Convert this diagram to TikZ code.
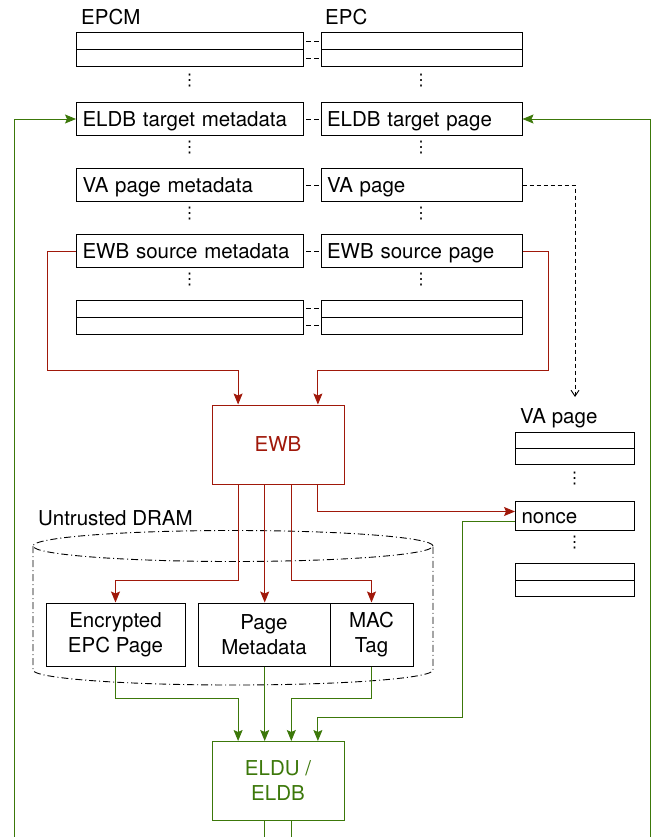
\documentclass[tikz,border=0pt]{standalone}
\usepackage{fontspec}
\setmainfont{TeX Gyre Heros}
\newfontfamily\symfont{DejaVu Sans}
\usetikzlibrary{arrows.meta,calc}
\definecolor{ewbred}{RGB}{160,24,10}
\definecolor{eldgreen}{RGB}{60,120,10}
\newcommand\mydots{{\symfont ⋮}}
\begin{document}
\begin{tikzpicture}[x=1pt,y=-1pt,
  every node/.style={font=\fontsize{20.5}{25}\selectfont},
  cell/.style={draw, line width=1pt, minimum height=33pt, inner xsep=6pt, inner ysep=0pt,
    text height=16pt, text depth=1pt, align=left, anchor=north west},
  lcell/.style={cell, text width=215pt},
  rcell/.style={cell, text width=189pt},
  thin/.style={draw, line width=1pt, minimum height=17pt, inner sep=0pt, anchor=north west},
  lbl/.style={anchor=base west, inner sep=0pt},
  dotsn/.style={inner sep=0pt, font=\fontsize{16}{16}\selectfont},
  proc/.style={minimum width=132pt, minimum height=79pt, line width=1pt, align=center, inner sep=0pt},
  dbox/.style={draw, fill=white, line width=1pt, minimum height=63pt, align=center, inner sep=0pt},
  pair/.style={dash pattern=on 5pt off 3pt, dash phase=6pt, line width=0.9pt},
  dashdot/.style={dash pattern=on 7pt off 3pt on 1pt off 3pt, line width=0.9pt},
  arr/.style={-{Stealth[length=11pt,width=9pt,inset=2pt]}},
  redlink/.style={draw=ewbred, line width=0.9pt, arr, color=ewbred},
  greenlink/.style={draw=eldgreen, line width=0.9pt, arr, color=eldgreen},
]
\useasboundingbox (0,0) rectangle (653,837);
\clip (0,0) rectangle (653,837);

% column labels
\node[lbl] (lepcm) at (81,25) {EPCM};
\node[lbl] (lepc) at (325,25) {EPC};

% top pair of rows
\node[thin, minimum width=227pt] (m1a) at (76,32) {};
\node[thin, minimum width=227pt] (m1b) at (76,49) {};
\node[thin, minimum width=201pt] (p1a) at (320.5,32) {};
\node[thin, minimum width=201pt] (p1b) at (320.5,49) {};

\node[lcell] (eldbm) at (76,102) {ELDB target metadata};
\node[rcell] (eldbp) at (320.5,102) {ELDB target page};
\node[lcell] (vam) at (76,168) {VA page metadata};
\node[rcell] (vap) at (320.5,168) {VA page};
\node[lcell] (ewbm) at (76,234) {EWB source metadata};
\node[rcell] (ewbp) at (320.5,234) {EWB source page};

\node[thin, minimum width=227pt] (m5a) at (76,299.5) {};
\node[thin, minimum width=227pt] (m5b) at (76,316.5) {};
\node[thin, minimum width=201pt] (p5a) at (320.5,299.5) {};
\node[thin, minimum width=201pt] (p5b) at (320.5,316.5) {};

% dots
\node[dotsn] (d1l) at (189.5,81) {\mydots};
\node[dotsn] (d1r) at (421,81) {\mydots};
\node[dotsn] (d2l) at (189.5,147.5) {\mydots};
\node[dotsn] (d2r) at (421,147.5) {\mydots};
\node[dotsn] (d3l) at (189.5,213.5) {\mydots};
\node[dotsn] (d3r) at (421,213.5) {\mydots};
\node[dotsn] (d4l) at (189.5,279.5) {\mydots};
\node[dotsn] (d4r) at (421,279.5) {\mydots};

% dashed links between EPCM and EPC
\foreach \a/\b in {m1a/p1a, m1b/p1b, eldbm/eldbp, vam/vap, ewbm/ewbp, m5a/p5a, m5b/p5b}
  \draw[pair] (\a.east) -- (\b.west);

% VA page column
\node[lbl] (lva) at (520,423) {VA page};
\node[thin, minimum width=119pt, minimum height=16pt] (v1a) at (515,432) {};
\node[thin, minimum width=119pt, minimum height=16pt] (v1b) at (515,448) {};
\node[dotsn] (dv1) at (574.5,478.5) {\mydots};
\node[cell, text width=107pt, minimum height=29pt] (nonce) at (515,501) {nonce};
\node[dotsn] (dv2) at (574.5,542.5) {\mydots};
\node[thin, minimum width=119pt, minimum height=16.5pt] (v3a) at (515,563) {};
\node[thin, minimum width=119pt, minimum height=16.5pt] (v3b) at (515,579.5) {};

\coordinate (vaend) at (575,397);
\draw[dash pattern=on 4pt off 3pt, line width=0.9pt, -{Straight Barb[length=6pt,width=8pt]}] (vap.east) -| (vaend);

% EWB
\node[proc, draw=ewbred, text=ewbred] (ewb) at (278,444.5) {EWB};
\coordinate (et1) at ($(ewb.north west)!0.2!(ewb.north east)$);
\coordinate (et4) at ($(ewb.north west)!0.8!(ewb.north east)$);
\coordinate (eb1) at ($(ewb.south west)!0.2!(ewb.south east)$);
\coordinate (eb2) at ($(ewb.south west)!0.4!(ewb.south east)$);
\coordinate (eb3) at ($(ewb.south west)!0.6!(ewb.south east)$);
\coordinate (eb4) at ($(ewb.south west)!0.8!(ewb.south east)$);

% Untrusted DRAM cylinder
\node[lbl] (ldram) at (38,525) {Untrusted DRAM};
\draw[dashdot] (233,546) ellipse[x radius=200pt, y radius=15.5pt];
\draw[dashdot] (33,546) -- (33,670) arc[start angle=180, end angle=360, x radius=200pt, y radius=15pt] -- (433,546);

\node[dbox, minimum width=139pt] (enc) at (115.5,634.5) {Encrypted\\EPC Page};
\node[dbox, minimum width=132pt] (pm) at (264,634.5) {Page\\Metadata};
\node[dbox, minimum width=83pt] (mac) at (371.5,634.5) {MAC\\Tag};

% ELDU / ELDB
\node[proc, draw=eldgreen, text=eldgreen] (eld) at (278,781) {ELDU /\\ELDB};
\coordinate (lt1) at ($(eld.north west)!0.2!(eld.north east)$);
\coordinate (lt2) at ($(eld.north west)!0.4!(eld.north east)$);
\coordinate (lt3) at ($(eld.north west)!0.6!(eld.north east)$);
\coordinate (lt4) at ($(eld.north west)!0.8!(eld.north east)$);
\coordinate (lb2) at ($(eld.south west)!0.4!(eld.south east)$);
\coordinate (lb3) at ($(eld.south west)!0.6!(eld.south east)$);

% red connectors
\draw[redlink] (ewbm.west) -| (47,370) -| (et1);
\draw[redlink] (ewbp.east) -| (548,370) -| (et4);
\draw[redlink] (eb1) |- ($(enc.north)+(0,-22)$) -- (enc.north);
\draw[redlink] (eb2) -- (eb2 |- pm.north);
\draw[redlink] (eb3) |- ($(mac.north)+(0,-22)$) -- (mac.north);
\draw[redlink] (eb4) |- ($(nonce.west)+(0,-4.5)$);

% green connectors
\draw[greenlink] (enc.south) |- ($(lt1)+(0,-43)$) -- (lt1);
\draw[greenlink] (lt2 |- pm.south) -- (lt2);
\draw[greenlink] (mac.south) |- ($(lt3)+(0,-43)$) -- (lt3);
\draw[greenlink] ($(nonce.west)+(0,5.5)$) -| (462,717) -| (lt4);
\draw[greenlink] (lb2) |- (14,880) |- (eldbm.west);
\draw[greenlink] (lb3) |- (650,880) |- (eldbp.east);
\end{tikzpicture}
\end{document}
